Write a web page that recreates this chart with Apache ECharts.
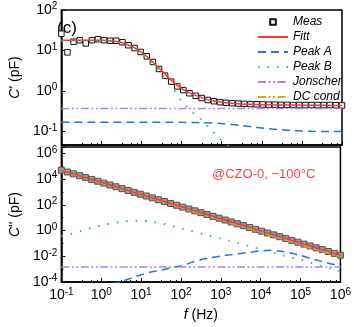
<!DOCTYPE html>
<html>
<head>
<meta charset="utf-8">
<script src="https://cdn.jsdelivr.net/npm/echarts@6/dist/echarts.min.js"></script>
<style>
  html, body { margin: 0; padding: 0; background: #fff; }
  #chart { width: 354px; height: 327px; }
</style>
</head>
<body>
<div id="chart"></div>
<script>
// measured points (Hz)
var measFreq = [0.1, 0.142, 0.201, 0.286, 0.406, 0.577, 0.819, 1.16, 1.65, 2.34, 3.33, 4.72, 6.70, 9.51,
  13.5, 19.2, 27.2, 38.6, 54.8, 77.8, 110, 157, 223, 316, 449, 637, 905, 1285, 1824, 2589, 3675, 5217,
  7405, 10510, 14920, 21180, 30070, 42680, 60580, 86000, 122100, 173300, 246000, 349200, 495700, 703700, 1000000];
// C' (pF)
var measReal = [26, 9, 16.5, 18, 15, 18, 19, 18, 17.4, 17.4, 16, 13.5, 11.5, 9.2, 7.2, 5.2, 3.5, 2.4, 1.7, 1.3,
  1.05, 0.88, 0.76, 0.67, 0.6, 0.56, 0.53, 0.51, 0.5, 0.49, 0.48, 0.475, 0.47, 0.465, 0.46, 0.46, 0.455, 0.455,
  0.45, 0.45, 0.45, 0.45, 0.45, 0.45, 0.45, 0.445, 0.44];
// C'' (pF)
var measImag = [50100, 36000, 25800, 18600, 13300, 9580, 6880, 4940, 3550, 2550, 1830, 1310, 942, 677, 486, 349,
  251, 180, 129, 92.9, 66.7, 47.9, 34.4, 24.7, 17.7, 12.7, 9.15, 6.57, 4.72, 3.39, 2.43, 1.75, 1.25, 0.90, 0.647,
  0.465, 0.334, 0.24, 0.172, 0.124, 0.0887, 0.0637, 0.0457, 0.0329, 0.0236, 0.0169, 0.0122];

// fit curves
var lineFreq = [0.1, 0.178, 0.316, 0.562, 1, 1.78, 3.16, 5.62, 10, 17.8, 31.6, 56.2, 100, 178, 316, 562, 1000,
  1780, 3160, 5620, 10000, 17800, 31600, 56200, 100000, 178000, 316000, 562000, 1000000];
var fitReal = [18, 18, 18, 17.9, 17.8, 17.2, 15.8, 12.8, 9.0, 5.6, 3.2, 1.8, 1.15, 0.85, 0.69, 0.58, 0.53, 0.5,
  0.48, 0.47, 0.46, 0.455, 0.45, 0.45, 0.447, 0.445, 0.443, 0.44, 0.44];
var peakAReal = [0.17, 0.17, 0.17, 0.17, 0.17, 0.17, 0.17, 0.17, 0.17, 0.17, 0.17, 0.17, 0.168, 0.167, 0.165,
  0.162, 0.157, 0.148, 0.14, 0.13, 0.122, 0.115, 0.11, 0.106, 0.103, 0.101, 0.1, 0.1, 0.1];
var peakBReal = [17.4, 17.4, 17.4, 17.3, 17.2, 16.6, 15.2, 12.2, 8.4, 5.0, 2.65, 1.3, 0.56, 0.31, 0.19, 0.105,
  0.06, 0.036, 0.021, 0.012, 0.007, 0.004, 0.0024, 0.0014, 0.0008, 0.0005, 0.0003, 0.0002, 0.0001];
var fitImag = [50100, 29100, 16900, 9800, 5690, 3300, 1910, 1110, 646, 375, 218, 126, 73, 42.5, 24.7, 14.3, 8.3,
  4.83, 2.8, 1.63, 0.944, 0.549, 0.318, 0.185, 0.107, 0.0624, 0.0362, 0.021, 0.0122];
var dcImag = [50100, 28800, 16500, 9480, 5450, 3130, 1800, 1030, 592, 340, 195, 112, 64.3, 36.9, 21.2, 12.2, 6.98,
  4.01, 2.3, 1.32, 0.759, 0.436, 0.25, 0.144, 0.0824, 0.0473, 0.0272, 0.0156, 0.00895];
var peakBImag = [0.38, 0.56, 0.93, 1.58, 2.5, 3.6, 4.8, 5.6, 5.9, 5.0, 3.6, 2.4, 1.5, 0.95, 0.6, 0.38, 0.24, 0.15,
  0.093, 0.058, 0.035, 0.022, 0.0132, 0.0083, 0.0052, 0.0032, 0.0018, 0.0011, 0.0007];
var peakAImag = [6.3e-6, 1e-5, 1.58e-5, 2.8e-5, 4.5e-5, 7.1e-5, 1.07e-4, 2e-4, 3.7e-4, 6e-4, 8.3e-4, 1.32e-3,
  1.78e-3, 3.2e-3, 5.4e-3, 7.9e-3, 0.0105, 0.0132, 0.0166, 0.0209, 0.0263, 0.0295, 0.0251, 0.0182, 0.0117, 0.0068,
  0.0042, 0.0026, 0.0017];
var jonFreq = [0.1, 1000000];
var jonReal = [0.37, 0.37];
var jonImag = [0.0015, 0.0015];

var legendNames = ['Meas', 'Fitt', 'Peak A', 'Peak B', 'Jonscher', 'DC cond'];

var FONT = 'Liberation Sans';
var colFit = '#f23a3a', colA = '#2673e0', colB = '#3cb878', colJ = '#b27fe6', colDC = '#d6a326';

function pairs(xs, ys) {
  return xs.map(function (x, i) { return [x, ys[i]]; });
}
// bottom panel uses a value axis on log10(C'')
function pairsLog(xs, ys) {
  return xs.map(function (x, i) { return [x, Math.log10(ys[i])]; });
}

function sup(e) {
  return '10{s|' + e + '}';
}
function logFmt(v) {
  var l = Math.log10(v), e = Math.round(l);
  if (Math.abs(l - e) > 1e-6) return '';
  return sup(e);
}
function expFmt(v) {
  if (Math.abs(v - Math.round(v)) > 1e-6) return '';
  return sup(Math.round(v));
}
var labelRich = {
  s: { fontSize: 10, fontFamily: FONT, color: '#000', verticalAlign: 'top', padding: [0, 0, 7, 0] }
};
var axisLine = { show: true, onZero: false, lineStyle: { color: '#000', width: 1.5 } };

var chart = echarts.init(document.getElementById('chart'));

function lineSeries(name, xi, yi, xs, ys, color, type, width, log) {
  return {
    name: name, type: 'line', xAxisIndex: xi, yAxisIndex: yi,
    data: log ? pairsLog(xs, ys) : pairs(xs, ys),
    showSymbol: false, symbol: 'none', smooth: 0.3, z: 5,
    itemStyle: { color: color },
    lineStyle: { color: color, type: type, width: width }
  };
}

// legend: square for Meas, bare lines for the rest
var legendData = legendNames.map(function (n) {
  return n === 'Meas' ? { name: n } : { name: n, itemStyle: { opacity: 0 } };
});

var option = {
  animation: false,
  textStyle: { fontFamily: FONT },
  grid: [
    { left: 52, right: 12, top: 10, height: 135, show: true, borderColor: '#000', borderWidth: 1.5 },
    { left: 52, right: 12, top: 147, height: 135, show: true, borderColor: '#000', borderWidth: 1.5 }
  ],
  legend: {
    data: legendData,
    orient: 'vertical',
    left: 252, top: 11,
    itemWidth: 30, itemHeight: 7, itemGap: 3,
    textStyle: { fontSize: 12, fontStyle: 'italic', fontFamily: FONT, color: '#000' }
  },
  xAxis: [
    {
      gridIndex: 0, type: 'log', min: 0.1, max: 1000000,
      axisLine: axisLine,
      axisTick: { inside: true, length: 4, lineStyle: { color: '#000' } },
      minorTick: { show: true, splitNumber: 4, length: 2, lineStyle: { color: '#000' } },
      axisLabel: { show: false },
      splitLine: { show: false }
    },
    {
      gridIndex: 1, type: 'log', min: 0.1, max: 1000000,
      axisLine: axisLine,
      axisTick: { inside: true, length: 4, lineStyle: { color: '#000' } },
      minorTick: { show: true, splitNumber: 4, length: 2, lineStyle: { color: '#000' } },
      axisLabel: { formatter: logFmt, fontSize: 14, color: '#000', fontFamily: FONT, margin: 5, rich: labelRich },
      splitLine: { show: false },
      name: '{i|f} (Hz)', nameLocation: 'middle', nameGap: 26,
      nameTextStyle: { fontSize: 14, color: '#000', fontFamily: FONT,
        rich: { i: { fontSize: 14, fontStyle: 'italic', fontFamily: FONT, color: '#000' } } }
    }
  ],
  yAxis: [
    {
      gridIndex: 0, type: 'log', min: 0.0464, max: 100,
      axisLine: axisLine,
      axisTick: { inside: true, length: 4, lineStyle: { color: '#000' } },
      axisLabel: { formatter: logFmt, fontSize: 14, color: '#000', fontFamily: FONT, margin: 4, rich: labelRich },
      splitLine: { show: false },
      name: "{i|C}' (pF)", nameLocation: 'middle', nameGap: 29, nameRotate: 90,
      nameTextStyle: { fontSize: 14, color: '#000', fontFamily: FONT,
        rich: { i: { fontSize: 14, fontStyle: 'italic', fontFamily: FONT, color: '#000' } } }
    },
    {
      gridIndex: 1, type: 'value', min: -4, max: 6.5, interval: 2,
      axisLine: axisLine,
      axisTick: { inside: true, length: 4, lineStyle: { color: '#000' } },
      minorTick: { show: true, splitNumber: 2, length: 2, lineStyle: { color: '#000' } },
      axisLabel: { formatter: expFmt, fontSize: 14, color: '#000', fontFamily: FONT, margin: 4, rich: labelRich },
      splitLine: { show: false },
      name: "{i|C}'' (pF)", nameLocation: 'middle', nameGap: 29, nameRotate: 90,
      nameTextStyle: { fontSize: 14, color: '#000', fontFamily: FONT,
        rich: { i: { fontSize: 14, fontStyle: 'italic', fontFamily: FONT, color: '#000' } } }
    }
  ],
  graphic: [
    { type: 'text', left: 57, top: 20, style: { text: '(c)', fontSize: 17, fontFamily: FONT, fill: '#000' } },
    { type: 'text', left: 212, top: 168, style: { text: '@CZO-0, \u2212100\u00B0C', fontSize: 13, fontFamily: FONT, fill: '#ee4747' } }
  ],
  series: [
    {
      name: 'Meas', type: 'line', xAxisIndex: 0, yAxisIndex: 0,
      data: pairs(measFreq, measReal),
      symbol: 'rect', symbolSize: 5.5, showSymbol: true, z: 3,
      lineStyle: { width: 0, opacity: 0 },
      itemStyle: { color: '#fff', borderColor: '#111', borderWidth: 1 }
    },
    lineSeries('Fitt', 0, 0, lineFreq, fitReal, colFit, 'solid', 1.5, false),
    lineSeries('Peak A', 0, 0, lineFreq, peakAReal, colA, [8, 5], 1.5, false),
    lineSeries('Peak B', 0, 0, lineFreq, peakBReal, colB, [1.5, 8], 2, false),
    lineSeries('Jonscher', 0, 0, jonFreq, jonReal, colJ, [8, 2.5, 2, 2.5, 2, 2.5], 1.5, false),
    {
      name: 'Meas', type: 'line', xAxisIndex: 1, yAxisIndex: 1,
      data: pairsLog(measFreq, measImag),
      symbol: 'rect', symbolSize: 6, showSymbol: true, z: 3,
      lineStyle: { width: 0, opacity: 0 },
      itemStyle: { color: '#9a9a9a', borderColor: '#555', borderWidth: 1 }
    },
    lineSeries('DC cond', 1, 1, lineFreq, dcImag, colDC, [8, 2.5, 2, 2.5, 2, 2.5], 2, true),
    lineSeries('Fitt', 1, 1, lineFreq, fitImag, colFit, 'solid', 1.5, true),
    lineSeries('Peak A', 1, 1, lineFreq, peakAImag, colA, [8, 5], 1.5, true),
    lineSeries('Peak B', 1, 1, lineFreq, peakBImag, colB, [1.5, 8], 2, true),
    lineSeries('Jonscher', 1, 1, jonFreq, jonImag, colJ, [8, 2.5, 2, 2.5, 2, 2.5], 1.5, true)
  ]
};

chart.setOption(option);
</script>
</body>
</html>
